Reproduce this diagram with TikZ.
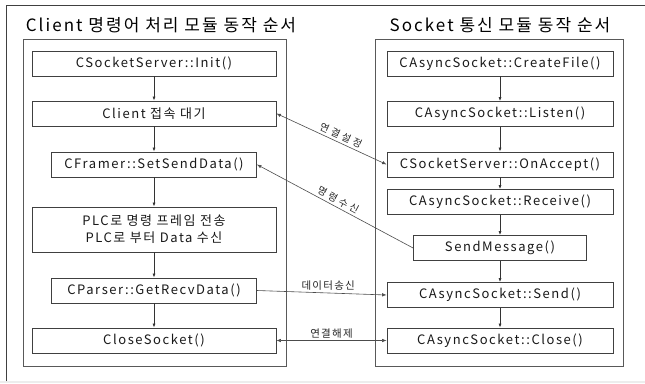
\documentclass[tikz,border=0pt]{standalone}
\usepackage{fontspec}
\setmainfont{Noto Sans CJK KR}[LetterSpace=12]
\newfontfamily\spacedfont{Noto Sans CJK KR}[LetterSpace=28]
\usetikzlibrary{arrows.meta}
\begin{document}
\begin{tikzpicture}[x=1pt,y=-1pt,
  box/.style={draw=black!75, line width=0.8pt, inner sep=0pt, minimum height=25pt,
    font=\fontsize{13}{17}\selectfont, text=black!90},
  wide/.style={box, minimum width=244pt},
  narrow/.style={box, minimum width=205pt},
  rwide/.style={box, minimum width=226pt},
  panel/.style={draw=black!65, line width=0.8pt},
  title/.style={font=\fontsize{17}{19}\selectfont, text=black},
  flow/.style={draw=black!80, line width=0.7pt, -{Latex[length=4pt,width=3pt]}},
  link/.style={draw=black!70, line width=0.6pt},
  lbl/.style={font=\fontsize{10.5}{12}\selectfont, text=black!85, inner sep=2pt},
  slbl/.style={font=\spacedfont\fontsize{10}{12}\selectfont, text=black!85, inner sep=2pt}
]
\useasboundingbox (0,0) rectangle (645,383);
\fill[white] (0,0) rectangle (645,383);
\fill[black!7] (0,381) rectangle (645,383);
\draw[black!75, line width=0.8pt] (6.5,381) -- (6.5,5) -- (645,5);

% panels
\draw[panel] (23,39) rectangle (286,366);
\draw[panel] (375,39) rectangle (623,366);
\node[title] (ltitle) at (161,25) {Client 명령어 처리 모듈 동작 순서};
\node[title] (rtitle) at (500,25) {Socket 통신 모듈 동작 순서};

% left column
\node[wide]   (init)   at (154,63.5)  {CSocketServer::Init()};
\node[wide]   (wait)   at (154,113.5) {Client 접속 대기};
\node[narrow] (framer) at (154,164.5) {CFramer::SetSendData()};
\node[wide, minimum height=45pt, align=center] (plc) at (154,229.5)
  {PLC로 명령 프레임 전송\\PLC로 부터 Data 수신};
\node[narrow] (parser) at (154,290.5) {CParser::GetRecvData()};
\node[wide]   (csock)  at (154,340.5) {CloseSocket()};

% right column
\node[rwide] (create)  at (500,63.5)  {CAsyncSocket::CreateFile()};
\node[rwide] (listen)  at (500,114)   {CAsyncSocket::Listen()};
\node[rwide] (accept)  at (500,164.5) {CSocketServer::OnAccept()};
\node[rwide] (recv)    at (500,202)   {CAsyncSocket::Receive()};
\node[box, minimum width=173pt] (sendmsg) at (500,248) {SendMessage()};
\node[rwide] (send)    at (500,295)   {CAsyncSocket::Send()};
\node[rwide] (close)   at (500,340.5) {CAsyncSocket::Close()};

% vertical flows
\draw[flow] (init) -- (wait);
\draw[flow] (wait) -- (framer);
\draw[flow] (framer) -- (plc);
\draw[flow] (plc) -- (parser);
\draw[flow] (parser) -- (csock);
\draw[flow] (create) -- (listen);
\draw[flow] (listen) -- (accept);
\draw[flow] (accept) -- (recv);
\draw[flow] (recv) -- (sendmsg);
\draw[flow] (sendmsg) -- (send);
\draw[flow] (send) -- (close);

% cross links
\draw[link, {Latex[length=4.5pt,width=3.5pt]}-{Latex[length=4.5pt,width=3.5pt]}] (wait.east) -- node[slbl, pos=0.56, above, sloped] {연결설정} (accept.west);
\draw[link, -{Latex[length=4.5pt,width=3.5pt]}] (sendmsg.west) -- node[slbl, pos=0.5, above, sloped] {명령수신} (framer.east);
\draw[link, -{Latex[length=4.5pt,width=3.5pt]}] (parser.east) -- node[lbl, pos=0.55, above] {데이터송신} (send.west);
\draw[link, {Latex[length=4.5pt,width=3.5pt]}-{Latex[length=4.5pt,width=3.5pt]}] (csock.east) -- node[lbl, pos=0.5, above] {연결해제} (close.west);
\end{tikzpicture}
\end{document}
